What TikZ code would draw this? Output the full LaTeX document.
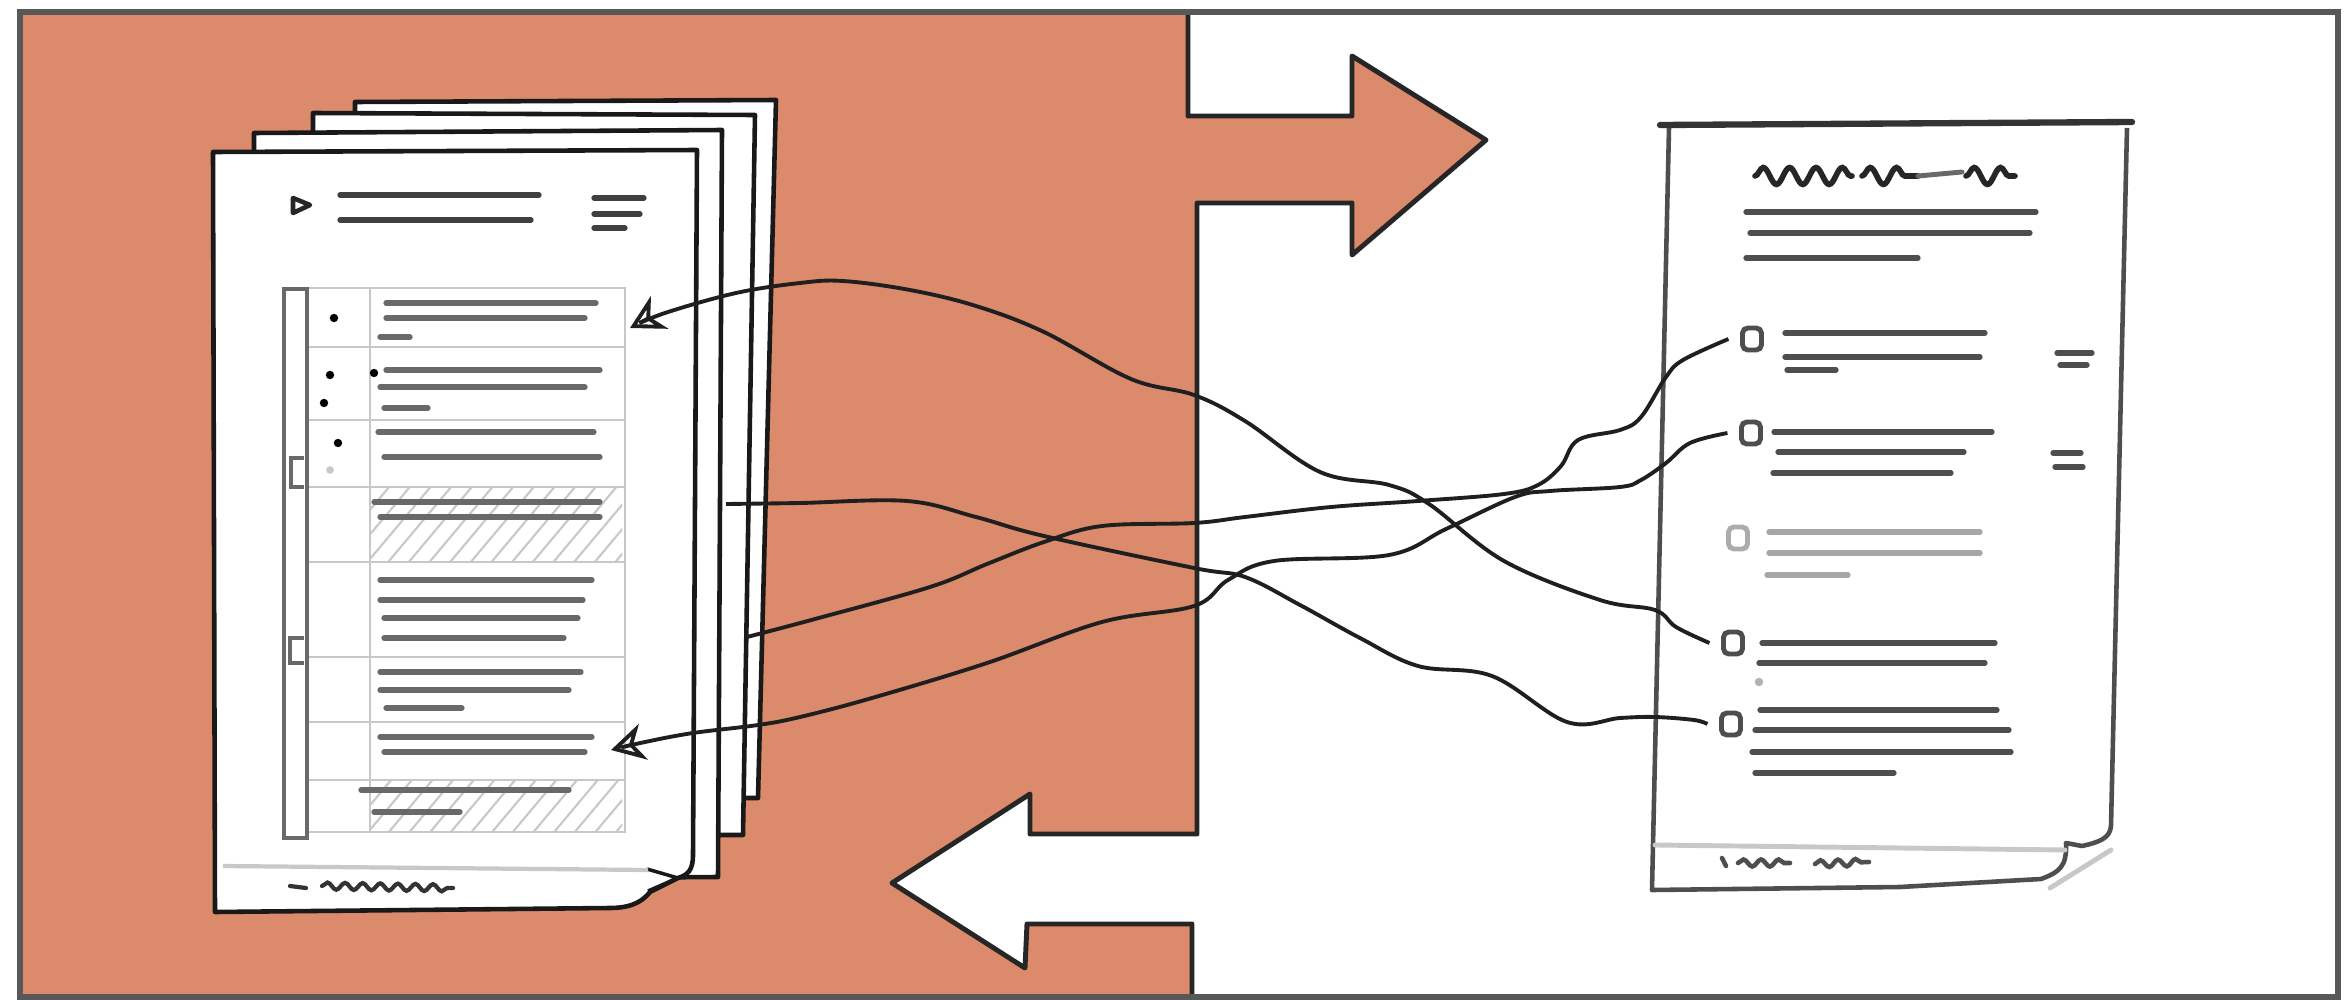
\documentclass[tikz,border=0pt]{standalone}
\usetikzlibrary{arrows.meta,patterns.meta,decorations.pathmorphing}
\definecolor{clay}{RGB}{219,138,108}
\definecolor{frameGray}{RGB}{88,88,88}
\definecolor{inkGray}{RGB}{105,105,105}
\definecolor{pencil}{RGB}{78,78,78}
\definecolor{ruleGray}{RGB}{200,200,200}
\begin{document}
\begin{tikzpicture}[x=0.01cm, y=-0.01cm,
  page/.style={draw=black!90, fill=white, line width=1.3pt, line join=round},
  ink/.style={draw=inkGray, line width=1.5pt, line cap=round},
  rule/.style={draw=ruleGray, line width=0.8pt},
  hatch/.style={pattern={Lines[angle=50,distance=4.5pt,line width=0.6pt]}, pattern color=ruleGray},
  cbox/.style={draw=pencil, line width=1.4pt, rounded corners=1.5pt, minimum width=0.19cm, minimum height=0.22cm, inner sep=0pt, outer sep=4pt},
  wire/.style={draw=black!88, line width=1.1pt},
  tip/.style={-{Stealth[open, length=9.5pt, width=10.5pt, inset=3pt]}},
  scribble/.style={decorate, decoration={snake, amplitude=1pt, segment length=5pt}},
  title/.style={draw=black!85, line width=1.6pt, line cap=round, decorate, decoration={snake, amplitude=2.4pt, segment length=7.5pt}}
]
\useasboundingbox (0,0) rectangle (2344,1000);
\fill[clay] (20,12) -- (1188,12) -- (1188,116) -- (1352,116) -- (1352,56) -- (1486,140) -- (1352,255) -- (1352,203) -- (1197,203) -- (1197,834) -- (1030,834) -- (1030,794) -- (892,883) -- (1025,968) -- (1027,924) -- (1192,924) -- (1192,997) -- (20,997) -- cycle;
\draw[draw=black!85, line width=1.4pt, line join=round] (1188,12) -- (1188,116) -- (1352,116) -- (1352,56) -- (1486,140) -- (1352,255) -- (1352,203) -- (1197,203) -- (1197,834) -- (1030,834) -- (1030,794) -- (892,883) -- (1025,968) -- (1027,924) -- (1192,924) -- (1192,997);
\draw[frameGray, line width=1.6pt] (20,12) rectangle (2338,997);

\draw[page] (355,102) -- (776,100) -- (758,798) -- (355,798) -- cycle;
\draw[page] (313,113) -- (755,115) -- (743,835) -- (313,835) -- cycle;
\draw[page] (254,133) -- (722,130) -- (718,877) -- (254,880) -- cycle;
\draw[page] (213,152) -- (697,150) -- (693,855) .. controls (693,870) and (688,875) .. (678,878) -- (650,892) .. controls (640,905) and (625,908) .. (610,908) -- (215,912) -- cycle;
\draw[page, fill=none, line width=1pt] (647,869) -- (678,878) -- (648,891);

\draw[black!85, line width=1.3pt, line join=round] (293,198) -- (310,205) -- (293,213) -- cycle;
\foreach \a/\b/\y in {340/539/195, 340/531/220, 594/644/198, 594/640/214, 594/625/228}
  \draw[ink, draw=black!75] (\a,\y) -- (\b,\y);

\fill[hatch] (370,487) rectangle (622,562);
\fill[hatch] (370,780) rectangle (622,832);
\draw[rule] (307,288) rectangle (625,832);
\draw[rule] (370,288) -- (370,832);
\foreach \y in {347,420,487,562,657,722,780}
  \draw[rule] (307,\y) -- (625,\y);
\draw[inkGray, line width=1.2pt] (284,289) rectangle (307,838);
\draw[inkGray, line width=1.1pt] (304,458) -- (291,458) -- (291,487) -- (304,487);
\draw[inkGray, line width=1.1pt] (304,638) -- (290,638) -- (290,663) -- (304,663);

\foreach \a/\b/\y in {386/596/303, 386/585/318, 380/410/337, 386/600/370, 380/585/387, 384/428/408,
  378/594/432, 384/600/457, 374/600/502, 380/600/517, 380/592/580, 380/583/600, 384/578/618, 384/564/638,
  380/581/672, 380/569/690, 386/462/708, 380/592/737, 384/585/752, 361/569/790, 374/460/812}
  \draw[ink] (\a,\y) -- (\b,\y);
\foreach \x/\y in {334/318, 330/375, 374/373, 324/403, 338/443}
  \fill (\x,\y) circle (1.2pt);
\fill[ruleGray] (330,470) circle (1.1pt);

\draw[rule, line width=1.2pt] (223,866) -- (648,870);
\draw[black!80, line width=1.2pt, line cap=round] (290,886) -- (306,888);
\draw[black!80, line width=1.2pt, line cap=round, scribble] (322,886) -- (453,888);

\draw[pencil, line width=1.3pt, line join=round] (1669,128) -- (1652,890) -- (1900,887) -- (2041,879) .. controls (2060,872) and (2067,866) .. (2066,843) -- (2082,846) .. controls (2100,842) and (2110,838) .. (2111,826) -- (2127,128);
\draw[black!80, line width=1.8pt, line cap=round] (1660,125) -- (2132,122);
\draw[ruleGray, line width=1.4pt, line cap=round] (2050,888) -- (2111,850);
\draw[ruleGray, line width=1.4pt, line cap=round] (1655,845) -- (2065,850);

\draw[title] (1755,176) -- (1852,176);
\draw[title] (1862,176) -- (1918,176);
\draw[inkGray, line width=1.4pt, line cap=round] (1918,176) -- (1962,172);
\draw[title] (1966,176) -- (2015,176);

\foreach \a/\b/\y in {1746/2036/212, 1750/2030/233, 1746/1918/258,
  1785/1985/333, 1785/1980/357, 1787/1836/370, 2057/2092/353, 2060/2087/365,
  1774/1992/432, 1778/1964/452, 1773/1951/473, 2053/2081/453, 2055/2083/467,
  1762/1995/643, 1759/1985/663, 1760/1997/710, 1755/2009/730, 1752/2011/752, 1755/1894/773}
  \draw[ink, draw=pencil] (\a,\y) -- (\b,\y);
\foreach \a/\b/\y in {1769/1980/532, 1769/1980/553, 1767/1848/575}
  \draw[ink, draw=gray!70] (\a,\y) -- (\b,\y);
\fill[gray!60] (1759,682) circle (1.2pt);
\draw[pencil, line width=1.3pt, line cap=round] (1722,858) -- (1726,866);
\draw[pencil, line width=1.3pt, line cap=round, scribble] (1738,863) -- (1790,863);
\draw[pencil, line width=1.3pt, line cap=round, scribble] (1815,864) -- (1869,862);

\node[cbox] (cb1) at (1752,339) {};
\node[cbox] (cb2) at (1751,433) {};
\node[cbox, draw=gray!65] (cb3) at (1738,538) {};
\node[cbox] (cb4) at (1733,643) {};
\node[cbox] (cb5) at (1731,724) {};
\coordinate (tipA) at (630,328);
\coordinate (tipD) at (611,750);
\coordinate (srcB) at (726,504);
\coordinate (srcC) at (747,637);

\draw[wire, tip] plot[smooth, tension=0.6] coordinates {(cb4.west) (1676,627) (1655,610) (1600,600) (1504,561) (1429,504) (1389,485) (1320,472) (1245,421) (1194,395) (1131,379) (1044,332) (976,306) (910,290) (843,281) (800,283) (736,293) (665,313) (tipA)};
\draw[wire] plot[smooth, tension=0.6] coordinates {(srcB) (800,503) (907,501) (976,517) (1044,536) (1194,568) (1245,577) (1300,605) (1360,638) (1418,666) (1492,676) (1567,722) (1620,718) (1655,717) (1694,720) (cb5.west)};
\draw[wire] plot[smooth, tension=0.6] coordinates {(srcC) (815,619) (930,587) (987,564) (1044,542) (1102,526) (1194,523) (1245,517) (1331,507) (1418,501) (1504,494) (1538,485) (1561,466) (1578,440) (1620,430) (1641,417) (1666,377) (1683,360) (cb1.west)};
\draw[wire, tip] plot[smooth, tension=0.6] coordinates {(cb2.west) (1690,443) (1666,463) (1641,480) (1620,487) (1550,491) (1515,497) (1446,529) (1389,555) (1274,561) (1228,580) (1194,606) (1102,622) (987,663) (872,698) (800,717) (758,725) (693,733) (645,742) (tipD)};
\end{tikzpicture}
\end{document}
